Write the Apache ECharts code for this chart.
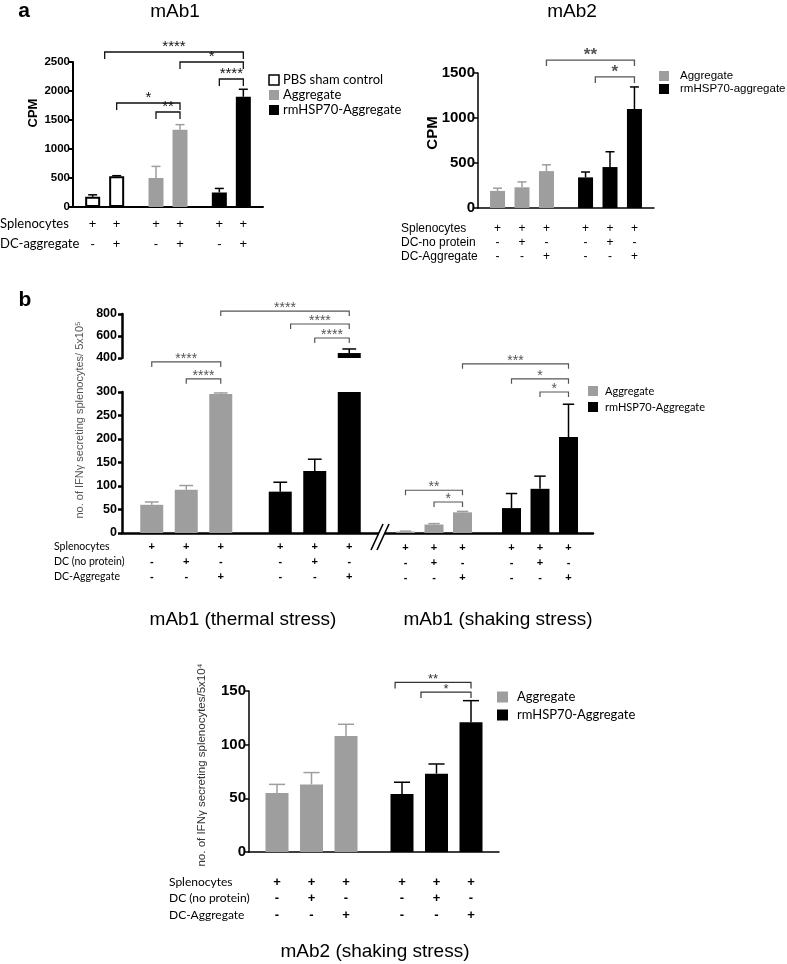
<!DOCTYPE html>
<html><head><meta charset="utf-8">
<script src="https://cdn.jsdelivr.net/npm/echarts@6/dist/echarts.min.js"></script>
<style>html,body{margin:0;padding:0;background:#fff}#c{width:787px;height:964px}</style>
</head><body><div id="c"></div>
<script>
// ================= DATA =================
// Panel a – mAb1 (CPM)
const aL_groups = ['PBS sham control', 'Aggregate', 'rmHSP70-Aggregate'];
const aL_noDC = [175, 500, 250];
const aL_noDC_sem = [35, 200, 70];
const aL_DC = [530, 1330, 1900];
const aL_DC_sem = [10, 90, 130];
const aL_ticks = [0, 500, 1000, 1500, 2000, 2500];
const aL_rowNames = ['Splenocytes', 'DC-aggregate'];
const aL_rowSplen = ['+', '+', '+', '+', '+', '+'];
const aL_rowDC = ['-', '+', '-', '+', '-', '+'];
// [fromGroup, fromBar, toGroup, toBar, level, label]
const aL_stars = [[0, 0.5, 2, 1, 2672, '****'], [1, 1, 2, 1, 2500, '*'], [2, 0, 2, 1, 2207, '****'],
                  [0, 1, 1, 1, 1793, '*'], [1, 0, 1, 1, 1638, '**']];

// Panel a – mAb2 (CPM)
const aR_groups = ['Aggregate', 'rmHSP70-aggregate'];
const aR_spl = [190, 340], aR_spl_sem = [30, 60];
const aR_dcNo = [230, 455], aR_dcNo_sem = [60, 170];
const aR_dcAgg = [410, 1100], aR_dcAgg_sem = [70, 245];
const aR_ticks = [0, 500, 1000, 1500];
const aR_rowNames = ['Splenocytes', 'DC-no protein', 'DC-Aggregate'];
const aR_stars = [[0, 2, 1, 2, 1644, '**'], [1, 0.4, 1, 2, 1456, '*']];

// shared condition rows (3-bar groups)
const row3_splen = ['+', '+', '+', '+', '+', '+'];
const row3_dcNo = ['-', '+', '-', '-', '+', '-'];
const row3_dcAgg = ['-', '-', '+', '-', '-', '+'];

// Panel b – mAb1 thermal stress (IFNγ spots / 5x10^5)
const b_groups = ['Aggregate', 'rmHSP70-Aggregate'];
const bT_spl = [60, 88], bT_spl_sem = [6, 20];
const bT_dcNo = [92, 132], bT_dcNo_sem = [9, 25];
const bT_dcAgg = [296, 445], bT_dcAgg_sem = [2, 37];
const bT_ticksLow = [0, 50, 100, 150, 200, 250, 300];
const bT_ticksHigh = [400, 600, 800];
const bT_starsLow = [[0, 0, 0, 2, 364, '****'], [0, 1, 0, 2, 328, '****']];
const bT_starsHigh = [[0, 2, 1, 2, 827, '****'], [1, 0.3, 1, 2, 709, '****'], [1, 1, 1, 2, 582, '****']];
const b_rowNames = ['Splenocytes', 'DC (no protein)', 'DC-Aggregate'];

// Panel b – mAb1 shaking stress
const bS_spl = [3, 53], bS_spl_sem = [1, 31];
const bS_dcNo = [18, 94], bS_dcNo_sem = [2, 27];
const bS_dcAgg = [44, 204], bS_dcAgg_sem = [2, 70];
const bS_stars = [[0, 0, 0, 2, 91, '**'], [0, 1, 0, 2, 66, '*'], [0, 2, 1, 2, 360, '***'],
                  [1, 0, 1, 2, 328, '*'], [1, 1, 1, 2, 300, '*']];

// mAb2 shaking stress (IFNγ spots / 5x10^4)
const c_spl = [55, 54], c_spl_sem = [8, 11];
const c_dcNo = [63, 73], c_dcNo_sem = [11, 9];
const c_dcAgg = [108, 121], c_dcAgg_sem = [11, 20];
const c_ticks = [0, 50, 100, 150];
const c_stars = [[1, -0.2, 1, 2, 158, '**'], [1, 0.55, 1, 2, 149, '*']];

// ================= CHART =================
const GRAY = '#9e9e9e', BLACK = '#000000';
const chart = echarts.init(document.getElementById('c'), null, {renderer: 'canvas', width: 787, height: 964});
const option = {animation: false, backgroundColor: '#fff', grid: [], xAxis: [], yAxis: [], series: [], graphic: []};

function txt(text, x, y, font, opts) {
  opts = opts || {};
  option.graphic.push({
    type: 'text', x: x, y: y, rotation: opts.rot || 0, z: 50,
    style: {text: text, font: font, fill: opts.color || '#000',
            textAlign: opts.align || 'left', textVerticalAlign: 'middle'}
  });
}

function addPanel(p) {
  const gi = option.grid.length;
  option.grid.push({left: p.left, top: p.top, width: p.width, height: p.height});
  const n = p.vals.length;
  const step = p.barW * (1 + p.gap / 100);
  const lo = p.ticks[0], hi = p.ticks[p.ticks.length - 1];
  option.xAxis.push({
    type: 'category', gridIndex: gi, data: p.groups, show: p.showX !== false,
    axisLine: {show: true, onZero: false, lineStyle: {color: '#000', width: p.axisW}},
    axisTick: {show: false}, axisLabel: {show: false}, splitLine: {show: false}
  });
  option.yAxis.push({
    type: 'value', gridIndex: gi, min: lo, max: hi, interval: p.ticks[1] - p.ticks[0], show: p.showY !== false,
    axisLine: {show: true, lineStyle: {color: '#000', width: p.axisW}},
    axisTick: {show: true, length: 4, lineStyle: {color: '#000', width: p.axisW}},
    axisLabel: {margin: p.labelMargin, color: '#000', fontWeight: 'bold', fontSize: p.tickFont,
                fontFamily: 'Liberation Sans, Arial, sans-serif', formatter: v => String(v)},
    splitLine: {show: false}
  });
  p.vals.forEach((arr, k) => {
    option.series.push({
      type: 'bar', xAxisIndex: gi, yAxisIndex: gi, barWidth: p.barW, barGap: p.gap + '%',
      silent: true, clip: true, z: 2,
      data: arr.map((v, g) => ({value: v, itemStyle: {color: p.fill[g], borderColor: p.stroke[g], borderWidth: p.strokeW[g]}}))
    });
  });
  const xOf = (api, g, k) => api.coord([g, lo])[0] + (k - (n - 1) / 2) * step;
  // error bars
  const errs = [];
  p.vals.forEach((arr, k) => arr.forEach((v, g) => errs.push({g: g, k: k, v: v, e: p.sems[k][g]})));
  option.series.push({
    type: 'custom', xAxisIndex: gi, yAxisIndex: gi, silent: true, z: 3,
    data: errs.map(d => [d.g, lo]),
    renderItem: (params, api) => {
      const d = errs[params.dataIndex];
      if (d.v > hi || d.v + d.e < lo) return null;
      const x = xOf(api, d.g, d.k);
      const y1 = api.coord([d.g, Math.max(d.v, lo)])[1];
      const y2 = api.coord([d.g, Math.min(d.v + d.e, hi)])[1];
      const hw = p.barW * p.cap / 2;
      const col = p.errColor[d.g];
      const ch = [{type: 'line', shape: {x1: x, y1: y1, x2: x, y2: y2}, style: {stroke: col, lineWidth: p.errW}}];
      if (d.v + d.e <= hi) ch.push({type: 'line', shape: {x1: x - hw, y1: y2, x2: x + hw, y2: y2}, style: {stroke: col, lineWidth: p.errW}});
      return {type: 'group', children: ch};
    }
  });
  // significance brackets
  if (p.stars) {
    option.series.push({
      type: 'custom', xAxisIndex: gi, yAxisIndex: gi, silent: true, z: 5,
      data: p.stars.map(s => [s[0], lo]),
      renderItem: (params, api) => {
        const s = p.stars[params.dataIndex];
        const x1 = xOf(api, s[0], s[1]), x2 = xOf(api, s[2], s[3]);
        const y = api.coord([0, s[4]])[1];
        const t = p.starTick;
        return {type: 'group', children: [
          {type: 'polyline', shape: {points: [[x1, y + t], [x1, y], [x2, y], [x2, y + t]]},
           style: {stroke: p.starColor, lineWidth: p.starW, fill: null}},
          {type: 'text', style: {text: s[5], x: (x1 + x2) / 2, y: y + p.starDy, textAlign: 'center',
           textVerticalAlign: 'middle', font: p.starFont, fill: p.starColor}}
        ]};
      }
    });
  }
  // condition rows (+ / -)
  if (p.rows) {
    const cells = [];
    for (let g = 0; g < p.groups.length; g++) for (let k = 0; k < n; k++) cells.push({g: g, k: k, i: g * n + k});
    option.series.push({
      type: 'custom', xAxisIndex: gi, yAxisIndex: gi, silent: true, z: 5,
      data: cells.map(c => [c.g, lo]),
      renderItem: (params, api) => {
        const c = cells[params.dataIndex];
        const x = xOf(api, c.g, c.k);
        const base = api.coord([c.g, lo])[1];
        return {type: 'group', children: p.rows.map((row, r) => ({
          type: 'text', style: {text: row[c.i], x: x, y: base + p.rowDy[r], textAlign: 'center',
          textVerticalAlign: 'middle', font: p.signFont, fill: '#000'}}))};
      }
    });
    if (p.rowNames) p.rowNames.forEach((nm, r) => txt(nm, p.rowNameX, p.top + p.height + p.rowDy[r], p.rowFont));
  }
}

function legend(labels, colors, strokes, boxX, ys, size, textX, font) {
  labels.forEach((lb, i) => {
    option.graphic.push({type: 'rect', z: 50, shape: {x: boxX, y: ys[i] - size / 2, width: size, height: size},
      style: {fill: colors[i], stroke: strokes[i], lineWidth: strokes[i] === 'none' ? 0 : 1.5}});
    txt(lb, textX, ys[i], font);
  });
}

// ---- panel a, mAb1
addPanel({
  left: 73, top: 62, width: 190, height: 145, groups: aL_groups,
  vals: [aL_noDC, aL_DC], sems: [aL_noDC_sem, aL_DC_sem], ticks: aL_ticks,
  barW: 15, gap: 60, fill: ['#fff', GRAY, BLACK], stroke: ['#000', GRAY, BLACK], strokeW: [2, 0, 0],
  errColor: ['#000', GRAY, '#000'], errW: 1.5, cap: 0.6,
  axisW: 2, tickFont: 11.5, labelMargin: 3,
  stars: aL_stars, starTick: 7, starColor: '#111', starW: 1.3, starFont: '15px Liberation Sans', starDy: -5,
  rows: [aL_rowSplen, aL_rowDC], rowDy: [17, 37], rowNames: aL_rowNames, rowNameX: 0,
  rowFont: '13px Lato', signFont: '13px Liberation Sans'
});
legend(aL_groups, ['#fff', GRAY, BLACK], ['#000', 'none', 'none'], 269, [80, 95, 110], 10, 283, '13px Lato');
txt('CPM', 33, 113, 'bold 13px Liberation Sans', {rot: Math.PI / 2, align: 'center'});

// ---- panel a, mAb2
addPanel({
  left: 478, top: 73, width: 176, height: 135, groups: aR_groups,
  vals: [aR_spl, aR_dcNo, aR_dcAgg], sems: [aR_spl_sem, aR_dcNo_sem, aR_dcAgg_sem], ticks: aR_ticks,
  barW: 15, gap: 63, fill: [GRAY, BLACK], stroke: [GRAY, BLACK], strokeW: [0, 0],
  errColor: [GRAY, '#000'], errW: 1.5, cap: 0.6,
  axisW: 1.5, tickFont: 15, labelMargin: 3,
  stars: aR_stars, starTick: 6, starColor: '#555', starW: 1.3, starFont: 'bold 17px Liberation Sans', starDy: -5,
  rows: [row3_splen, row3_dcNo, row3_dcAgg], rowDy: [21, 35, 49], rowNames: aR_rowNames, rowNameX: 401,
  rowFont: '12px Liberation Sans', signFont: '12px Liberation Sans'
});
legend(aR_groups, [GRAY, BLACK], ['none', 'none'], 659, [76, 89], 10, 680, '11.5px Liberation Sans');
txt('CPM', 433, 133, 'bold 15px Liberation Sans', {rot: Math.PI / 2, align: 'center'});

// ---- panel b, thermal (lower + upper segment)
const bCommon = {
  groups: b_groups, vals: [bT_spl, bT_dcNo, bT_dcAgg], sems: [bT_spl_sem, bT_dcNo_sem, bT_dcAgg_sem],
  barW: 23, gap: 50, fill: [GRAY, BLACK], stroke: [GRAY, BLACK], strokeW: [0, 0],
  errColor: [GRAY, '#000'], errW: 1.5, cap: 0.6, axisW: 2.5, tickFont: 12.5, labelMargin: 5,
  starTick: 5, starColor: '#555', starW: 1.2, starFont: '14px Liberation Sans', starDy: -3
};
addPanel(Object.assign({}, bCommon, {
  left: 122, top: 392, width: 257, height: 141, ticks: bT_ticksLow, stars: bT_starsLow,
  rows: [row3_splen, row3_dcNo, row3_dcAgg], rowDy: [14, 29, 44], rowNames: b_rowNames, rowNameX: 54,
  rowFont: '10.5px Lato', signFont: 'bold 11px Liberation Sans'
}));
addPanel(Object.assign({}, bCommon, {
  left: 122, top: 314, width: 257, height: 44, ticks: bT_ticksHigh, stars: bT_starsHigh, showX: false
}));
// ---- panel b, shaking
addPanel(Object.assign({}, bCommon, {
  left: 381, top: 392, width: 212, height: 141, ticks: bT_ticksLow, showY: false,
  barW: 19, vals: [bS_spl, bS_dcNo, bS_dcAgg], sems: [bS_spl_sem, bS_dcNo_sem, bS_dcAgg_sem], stars: bS_stars,
  rows: [row3_splen, row3_dcNo, row3_dcAgg], rowDy: [15, 30, 45], signFont: 'bold 11px Liberation Sans'
}));
legend(b_groups, [GRAY, BLACK], ['none', 'none'], 588, [391, 407], 10, 605, '11px Lato');
txt('no. of IFNγ secreting splenocytes/ 5x10⁵', 80, 420, '11px Liberation Sans', {rot: Math.PI / 2, align: 'center', color: '#555'});
// axis break mark
option.graphic.push({type: 'polygon', z: 60, shape: {points: [[371, 550], [383, 524], [389, 524], [377, 550]]}, style: {fill: '#fff'}});
option.graphic.push({type: 'line', z: 61, shape: {x1: 371, y1: 550, x2: 383, y2: 524}, style: {stroke: '#000', lineWidth: 1.6}});
option.graphic.push({type: 'line', z: 61, shape: {x1: 377, y1: 550, x2: 389, y2: 524}, style: {stroke: '#000', lineWidth: 1.6}});

// ---- mAb2 shaking
addPanel({
  left: 249, top: 691, width: 250, height: 161, groups: b_groups,
  vals: [c_spl, c_dcNo, c_dcAgg], sems: [c_spl_sem, c_dcNo_sem, c_dcAgg_sem], ticks: c_ticks,
  barW: 23, gap: 50, fill: [GRAY, BLACK], stroke: [GRAY, BLACK], strokeW: [0, 0],
  errColor: [GRAY, '#000'], errW: 1.5, cap: 0.7,
  axisW: 1.5, tickFont: 15, labelMargin: 3,
  stars: c_stars, starTick: 6, starColor: '#333', starW: 1.2, starFont: '13px Liberation Sans', starDy: -3,
  rows: [row3_splen, row3_dcNo, row3_dcAgg], rowDy: [30, 46, 63], rowNames: b_rowNames, rowNameX: 169,
  rowFont: '12px Lato', signFont: 'bold 13px Liberation Sans'
});
legend(b_groups, [GRAY, BLACK], ['none', 'none'], 497, [697, 715], 11, 517, '13px Lato');
txt('no. of IFNγ secreting splenocytes/5x10⁴', 202, 765, '11.5px Liberation Sans', {rot: Math.PI / 2, align: 'center', color: '#333'});

// ---- titles
txt('a', 24, 11, 'bold 21px Liberation Sans', {align: 'center'});
txt('mAb1', 175, 12, '19px Liberation Sans', {align: 'center'});
txt('mAb2', 572, 12, '19px Liberation Sans', {align: 'center'});
txt('b', 25, 300, 'bold 21px Liberation Sans', {align: 'center'});
txt('mAb1 (thermal stress)', 243, 620, '19px Liberation Sans', {align: 'center'});
txt('mAb1 (shaking stress)', 498, 620, '19px Liberation Sans', {align: 'center'});
txt('mAb2 (shaking stress)', 375, 952, '19px Liberation Sans', {align: 'center'});

chart.setOption(option);
</script></body></html>
